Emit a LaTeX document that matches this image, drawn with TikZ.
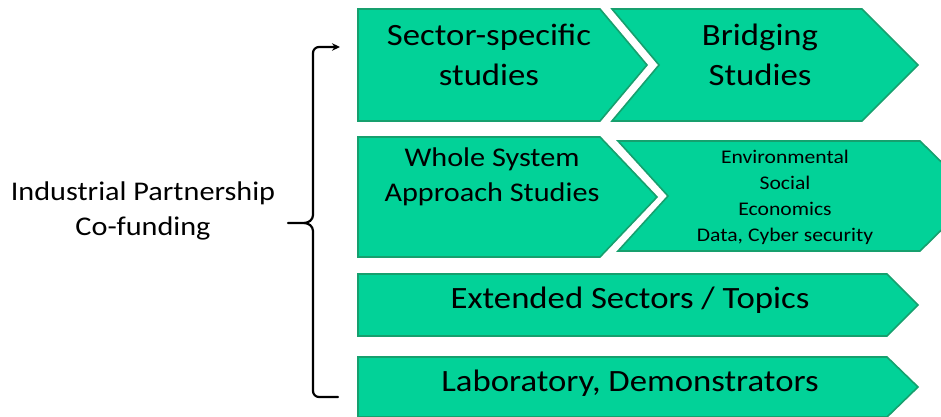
\documentclass[tikz,border=0pt]{standalone}
\usepackage{fontspec}
\setmainfont{Carlito}[FakeStretch=1.12]
\usetikzlibrary{arrows.meta}

\definecolor{boxfill}{RGB}{2,210,152}
\definecolor{boxline}{RGB}{22,160,110}

\tikzset{
  stage/.style={fill=boxfill,draw=boxline,line width=1.6pt,line join=miter},
  bigtext/.style={align=center,font=\fontsize{31}{40}\selectfont},
  midtext/.style={align=center,font=\fontsize{27}{35}\selectfont},
  smalltext/.style={align=center,font=\fontsize{19.3}{26}\selectfont},
  bracket/.style={line width=2.2pt,line cap=round,line join=round}
}

\begin{document}
\begin{tikzpicture}[x=1pt,y=-1pt]
      \pgfmathsetmacro{\xl}{358}
      \pgfmathsetmacro{\xr}{887}

      \clip (0,0) rectangle (941,417);
      \fill[white] (0,0) rectangle (941,417);

      % row 1
      \draw[stage] (\xl,9) -- (600,9) -- (647,65) -- (600,121) -- (\xl,121) -- cycle;
      \draw[stage] (612,9) -- (862,9) -- (918,65) -- (862,121) -- (612,121) -- (659,65) -- cycle;
      % row 2
      \draw[stage] (\xl,137) -- (600,137) -- (657,197) -- (600,257) -- (\xl,257) -- cycle;
      \draw[stage] (618,141) -- (920,141) -- (976,196) -- (920,251) -- (618,251) -- (668,196) -- cycle;
      % rows 3 and 4
      \draw[stage] (\xl,274) -- (\xr,274) -- (918,305) -- (\xr,336) -- (\xl,336) -- cycle;
      \draw[stage] (\xl,357) -- (\xr,357) -- (918,387) -- (\xr,417) -- (\xl,417) -- cycle;

      \node[bigtext] (sector) at (489,55) {Sector-specific\\studies};
      \node[bigtext] (bridging) at (760,55) {Bridging\\Studies};
      \node[midtext] (whole) at (492,177) {Whole System\\Approach Studies};
      \node[smalltext] (topics) at (785,197) {Environmental\\Social\\Economics\\Data, Cyber security};
      \node[bigtext] (extended) at (630,300) {Extended Sectors / Topics};
      \node[bigtext] (lab) at (630,383) {Laboratory, Demonstrators};

      \node[midtext] (funding) at (143,211) {Industrial Partnership\\Co-funding};

      \coordinate (tip) at (288,223);
      \coordinate (top) at (340,47);
      \coordinate (bot) at (338,397);

      \draw[bracket,-{Stealth[length=8pt,width=7.5pt]}] (tip) -- (304,223) to[out=0,in=-90] (313,215)
        -- (313,53) to[out=90,in=180] (319,47) -- (top);
      \draw[bracket] (304,223) to[out=0,in=90] (313,231) -- (313,391) to[out=-90,in=180] (319,397) -- (bot);
    \end{tikzpicture}
\end{document}
